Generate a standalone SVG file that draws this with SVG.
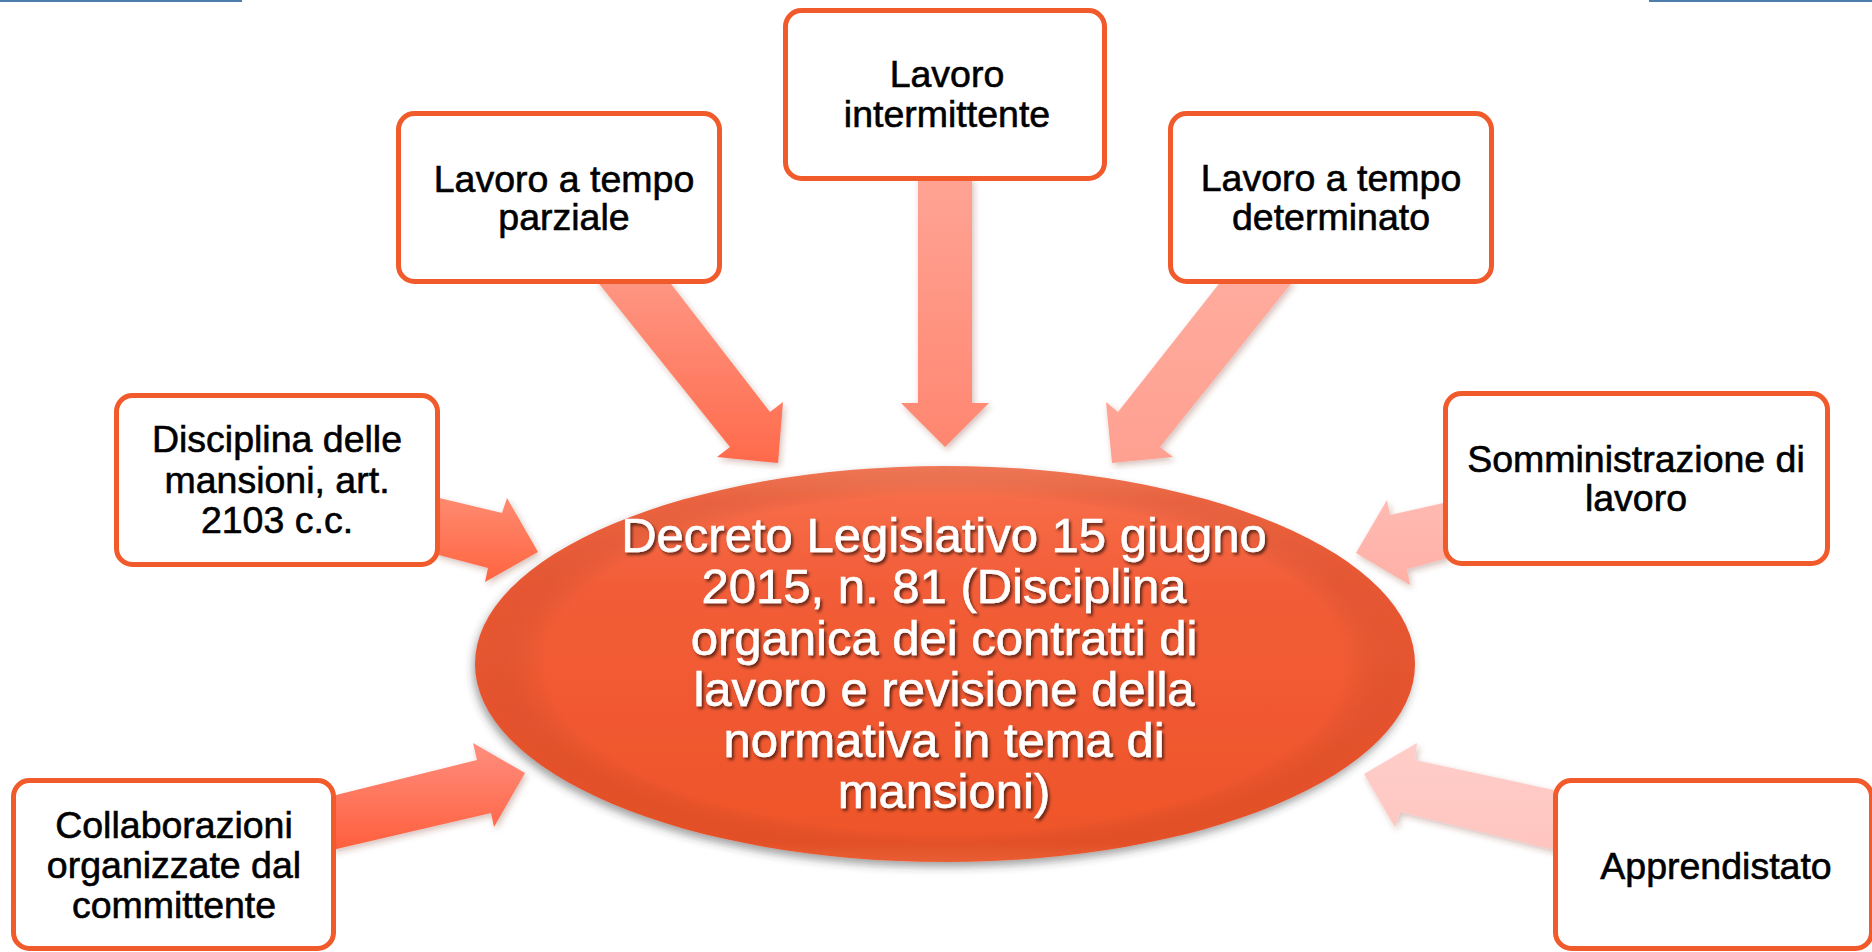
<svg xmlns="http://www.w3.org/2000/svg" width="1872" height="952" viewBox="0 0 1872 952">
<defs>
<style>
.box{fill:#ffffff;stroke:#f15a2b;stroke-width:5}
.lbl{font-family:"Liberation Sans",Arial,sans-serif;font-size:37.5px;fill:#000000;stroke:#000000;stroke-width:0.6;text-anchor:middle}
.ctr{font-family:"Liberation Sans",Arial,sans-serif;font-size:49px;fill:#ffffff;stroke:#ffffff;stroke-width:0.6;text-anchor:middle}
</style>
<linearGradient id="gParz" x1="0" y1="0" x2="0" y2="1"><stop offset="0" stop-color="#fe9683"/><stop offset="1" stop-color="#ff6a4b"/></linearGradient>
<linearGradient id="gInt" x1="0" y1="0" x2="0" y2="1"><stop offset="0" stop-color="#ffa394"/><stop offset="1" stop-color="#ff8670"/></linearGradient>
<linearGradient id="gDet" x1="0" y1="0" x2="0" y2="1"><stop offset="0" stop-color="#ffab9d"/><stop offset="1" stop-color="#ffa091"/></linearGradient>
<linearGradient id="gDis" x1="0" y1="0" x2="0" y2="1"><stop offset="0" stop-color="#ff8a70"/><stop offset="1" stop-color="#ff6440"/></linearGradient>
<linearGradient id="gSom" x1="0" y1="0" x2="0" y2="1"><stop offset="0" stop-color="#ffbab2"/><stop offset="1" stop-color="#ffb0a6"/></linearGradient>
<linearGradient id="gCol" x1="0" y1="0" x2="0" y2="1"><stop offset="0" stop-color="#ff8e7e"/><stop offset="1" stop-color="#ff5f3d"/></linearGradient>
<linearGradient id="gApp" x1="0" y1="0" x2="0" y2="1"><stop offset="0" stop-color="#ffcdc9"/><stop offset="1" stop-color="#ffc5bf"/></linearGradient>
<linearGradient id="gEll" x1="0" y1="0" x2="0" y2="1">
<stop offset="0" stop-color="#fb8462"/>
<stop offset="0.08" stop-color="#f76c48"/>
<stop offset="0.3" stop-color="#f25d38"/>
<stop offset="0.95" stop-color="#ef552a"/>
<stop offset="1" stop-color="#f6663a"/>
</linearGradient>
<radialGradient id="gEllEdge" cx="0.5" cy="0.5" r="0.5">
<stop offset="0.85" stop-color="#000000" stop-opacity="0"/>
<stop offset="1" stop-color="#b83a18" stop-opacity="0.18"/>
</radialGradient>
<filter id="arShadow" x="-20%" y="-20%" width="140%" height="140%">
<feDropShadow dx="2" dy="3" stdDeviation="3" flood-color="#7a2a18" flood-opacity="0.3"/>
</filter>
<filter id="ellShadow" x="-10%" y="-10%" width="120%" height="125%">
<feDropShadow dx="-2" dy="5" stdDeviation="4" flood-color="#333333" flood-opacity="0.45"/>
</filter>
<filter id="txtShadow" x="-5%" y="-20%" width="110%" height="150%">
<feDropShadow dx="2" dy="2.5" stdDeviation="1.5" flood-color="#000000" flood-opacity="0.6"/>
</filter>
</defs>

<g id="frame-lines">
<line x1="0" y1="1" x2="242" y2="1" stroke="#4f7dab" stroke-width="2"/>
<line x1="1649" y1="1" x2="1872" y2="1" stroke="#4f7dab" stroke-width="2"/>
</g>

<g id="connectors" filter="url(#arShadow)">
<polygon id="arrow-parziale" fill="url(#gParz)" points="596,280 668,280 770,412 783,402 778,463 717,457 730,447"/>
<polygon id="arrow-intermittente" fill="url(#gInt)" points="918,178 972,178 972,403 989,403 945,447 901,403 918,403"/>
<polygon id="arrow-determinato" fill="url(#gDet)" points="1222,280 1294,280 1160,447 1173,457 1112,463 1106,402 1118,412"/>
<polygon id="arrow-disciplina" fill="url(#gDis)" points="435,497 502,513 507,498 538,552 485,582 488,568 435,554"/>
<polygon id="arrow-somministrazione" fill="url(#gSom)" points="1448,502 1390,515 1387,500 1356,553 1410,585 1407,569 1448,558"/>
<polygon id="arrow-collaborazioni" fill="url(#gCol)" points="332,796 477,760 473,743 525,773 494,827 491,813 332,850"/>
<polygon id="arrow-apprendistato" fill="url(#gApp)" points="1558,791 1415,760 1417,743 1364,774 1395,827 1400,812 1558,851"/>
</g>

<g id="node-parziale">
<rect class="box" x="398.5" y="113.5" width="321" height="168" rx="16"/>
<text class="lbl" x="564" y="192">Lavoro a tempo</text>
<text class="lbl" x="564" y="230">parziale</text>
</g>

<g id="node-intermittente">
<rect class="box" x="785.5" y="10.5" width="319" height="168" rx="16"/>
<text class="lbl" x="947" y="87">Lavoro</text>
<text class="lbl" x="947" y="127">intermittente</text>
</g>

<g id="node-determinato">
<rect class="box" x="1170.5" y="113.5" width="321" height="168" rx="16"/>
<text class="lbl" x="1331" y="191">Lavoro a tempo</text>
<text class="lbl" x="1331" y="230">determinato</text>
</g>

<g id="node-disciplina">
<rect class="box" x="116.5" y="395.5" width="321" height="169" rx="16"/>
<text class="lbl" x="277" y="452">Disciplina delle</text>
<text class="lbl" x="277" y="493">mansioni, art.</text>
<text class="lbl" x="277" y="533">2103 c.c.</text>
</g>

<g id="node-somministrazione">
<rect class="box" x="1445.5" y="393.5" width="382" height="170" rx="16"/>
<text class="lbl" x="1636" y="472">Somministrazione di</text>
<text class="lbl" x="1636" y="511">lavoro</text>
</g>

<g id="node-collaborazioni">
<rect class="box" x="13.5" y="780.5" width="320" height="168" rx="16"/>
<text class="lbl" x="174" y="838">Collaborazioni</text>
<text class="lbl" x="174" y="878">organizzate dal</text>
<text class="lbl" x="174" y="918">committente</text>
</g>

<g id="node-apprendistato">
<rect class="box" x="1555.5" y="780.5" width="316" height="168" rx="16"/>
<text class="lbl" x="1716" y="879">Apprendistato</text>
</g>

<g id="node-decreto">
<ellipse cx="945" cy="664" rx="470" ry="198" fill="url(#gEll)" filter="url(#ellShadow)"/>
<ellipse cx="945" cy="664" rx="470" ry="198" fill="url(#gEllEdge)"/>
<g filter="url(#txtShadow)">
<text class="ctr" x="944" y="552">Decreto Legislativo 15 giugno</text>
<text class="ctr" x="944" y="603">2015, n. 81 (Disciplina</text>
<text class="ctr" x="944" y="655">organica dei contratti di</text>
<text class="ctr" x="944" y="706">lavoro e revisione della</text>
<text class="ctr" x="944" y="757">normativa in tema di</text>
<text class="ctr" x="944" y="808">mansioni)</text>
</g>
</g>
</svg>
